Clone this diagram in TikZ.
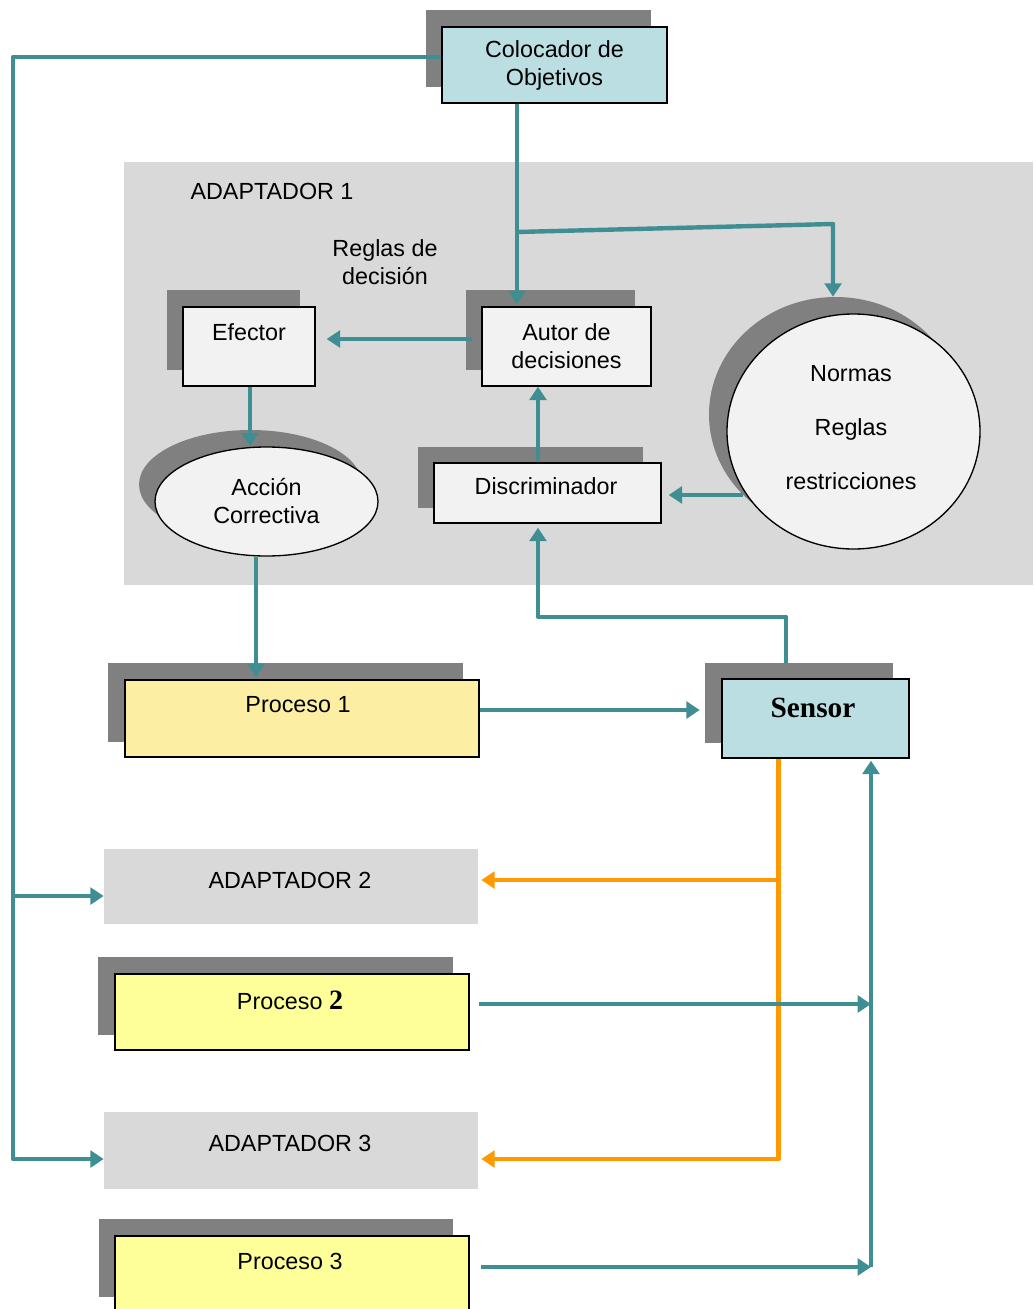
\documentclass[tikz,border=0pt]{standalone}
\usepackage{fontspec}
\setmainfont{Liberation Sans}
\newfontfamily\serifb{Liberation Serif}
\usetikzlibrary{arrows.meta,shapes.geometric}
\definecolor{tealc}{RGB}{62,142,148}
\definecolor{orangec}{RGB}{255,153,0}
\definecolor{bluec}{RGB}{187,222,227}
\definecolor{grayc}{RGB}{217,217,217}
\definecolor{shadowc}{RGB}{128,128,128}
\definecolor{boxw}{RGB}{242,242,242}
\definecolor{yel1}{RGB}{252,239,163}
\definecolor{yel2}{RGB}{255,255,153}
\begin{document}
\begin{tikzpicture}[x=0.75pt,y=-0.75pt,
  font=\fontsize{17.5}{21}\selectfont,
  box/.style={draw=black, line width=1pt, fill=boxw, inner sep=0pt, rectangle, align=center},
  shd/.style={fill=shadowc, draw=none, inner sep=0pt, rectangle},
  ell/.style={draw=black, line width=1pt, fill=boxw, inner sep=0pt, ellipse, align=center},
  shdell/.style={fill=shadowc, draw=none, inner sep=0pt, ellipse},
  gbox/.style={fill=grayc, draw=none, inner sep=0pt, rectangle},
  txt/.style={inner sep=0pt, align=center},
  tarrow/.style={draw=tealc, line width=3.3pt, line join=round, -{Triangle[length=10pt,width=12.5pt]}},
  oarrow/.style={draw=orangec, line width=3.3pt, line join=round, -{Triangle[length=10pt,width=12.5pt]}}
]
\useasboundingbox (0,0) rectangle (1033,1309);
\clip (0,0) rectangle (1033,1309);

% ADAPTADOR 1 area
\node[gbox, minimum width=681.75pt, minimum height=317.25pt] (ad1) at (578.5,373.5) {};
\node[txt] (ad1l) at (272,191) {ADAPTADOR 1};
\node[txt] (rdl) at (385,262) {Reglas de\\decisión};

% Colocador
\node[shd, minimum width=168.75pt, minimum height=57.75pt] (colsh) at (538.5,48.5) {};
\node[box, fill=bluec, minimum width=168.75pt, minimum height=57pt] (col) at (554.5,65) {Colocador de\\Objetivos};

% Efector
\node[shd, minimum width=99.75pt, minimum height=60pt] (efesh) at (233.5,330) {};
\node[box, minimum width=99pt, minimum height=59.25pt] (efe) at (249,346.5) {};
\node[txt] (efel) at (249,332) {Efector};

% Autor de decisiones
\node[shd, minimum width=126.75pt, minimum height=60pt] (autsh) at (550.5,330) {};
\node[box, minimum width=126.75pt, minimum height=59.25pt] (aut) at (566.5,346.5) {Autor de\\decisiones};

% Discriminador
\node[shd, minimum width=168.75pt, minimum height=45.75pt] (discsh) at (530.5,477.5) {};
\node[box, minimum width=170.25pt, minimum height=45pt] (disc) at (547.5,493) {};
\node[txt] (discl) at (546,486) {Discriminador};

% Accion correctiva
\node[shdell, minimum width=167.25pt, minimum height=81.75pt] (accsh) at (250.5,484.5) {};
\node[ell, minimum width=167.25pt, minimum height=81.75pt] (acc) at (266.5,501.5) {Acción\\Correctiva};

% Normas
\node[shdell, minimum width=189.75pt, minimum height=176.25pt] (nsh) at (835.5,414.5) {};
\node[ell, minimum width=189.75pt, minimum height=176.25pt] (norm) at (853.5,431.5) {};
\node[txt, font=\fontsize{17.5}{40.5}\selectfont] (normt) at (851,427.5) {Normas\\Reglas\\restricciones};

% Proceso 1
\node[shd, minimum width=266.25pt, minimum height=59.25pt] (p1sh) at (285.5,702.5) {};
\node[box, fill=yel1, minimum width=265.5pt, minimum height=57.75pt] (p1) at (302,718.5) {};
\node[txt] (p1l) at (298,705) {Proceso 1};

% Sensor
\node[shd, minimum width=141pt, minimum height=60pt] (ssh) at (799,703) {};
\node[box, fill=bluec, minimum width=140.25pt, minimum height=59.25pt] (sen) at (815.5,718.5) {};
\node[txt, font=\serifb\bfseries\fontsize{22}{26}\selectfont] (senl) at (813,708) {Sensor};

% Adaptadores 2 y 3
\node[gbox, minimum width=280.5pt, minimum height=56.25pt] (ad2) at (291,886.5) {};
\node[txt] (ad2l) at (290,880) {ADAPTADOR 2};
\node[gbox, minimum width=280.5pt, minimum height=57.75pt] (ad3) at (291,1150.5) {};
\node[txt] (ad3l) at (290,1143) {ADAPTADOR 3};

% Proceso 2
\node[shd, minimum width=266.25pt, minimum height=58.5pt] (p2sh) at (275.5,996) {};
\node[box, fill=yel2, minimum width=265.5pt, minimum height=57pt] (p2) at (292,1012) {};
\node[txt] (p2l) at (290,1000) {Proceso {\serifb\bfseries\fontsize{21}{24}\selectfont 2}};

% Proceso 3
\node[shd, minimum width=265.5pt, minimum height=58.5pt] (p3sh) at (276,1258) {};
\node[box, fill=yel2, minimum width=265.5pt, minimum height=60pt] (p3) at (292,1276) {};
\node[txt] (p3l) at (290,1261) {Proceso 3};

% Connectors
\coordinate (br) at (517,232);
\coordinate (j2) at (13,896);
\coordinate (ob) at (778.5,880);
\coordinate (vb) at (871,1267);

\draw[tarrow] ([yshift=6pt]col.west) -| (13,1159) -- ([yshift=-6.375pt]ad3.west);
\draw[tarrow] (j2) -- ([yshift=-7.125pt]ad2.west);
\draw[tarrow, shorten >=1.5pt] ([xshift=-28.125pt]col.south) -- ([xshift=-37.125pt]aut.north);
\draw[tarrow] (br) -- (833,224) -- ([xshift=-1.875pt]nsh.north);
\draw[tarrow, shorten >=8.25pt] ([xshift=-6.75pt,yshift=5.625pt]aut.west) -- ([yshift=5.625pt]efe.east);
\draw[tarrow] ([xshift=0.75pt]efe.south) -- ([xshift=-12.375pt]acc.north);
\draw[tarrow] ([xshift=-7.125pt]disc.north) -- ([xshift=-21.375pt]aut.south);
\draw[tarrow, shorten >=5.25pt] (nsh.221) -- (nsh.221 -| disc.east);
\draw[tarrow, shorten >=1.5pt] ([xshift=-7.875pt]acc.south) -- ([xshift=-34.5pt]p1.north);
\draw[tarrow, shorten >=3.75pt] ([yshift=6.375pt]p1.east) -- ([yshift=6.375pt]p1.east -| ssh.west);
\draw[tarrow, shorten >=3pt] ([xshift=-9.75pt]ssh.north) -- ++(0,-46) -| ([xshift=-7.125pt]disc.south);
\draw[oarrow, shorten >=2.25pt] ([xshift=-27.75pt]sen.south) |- ([yshift=-6.375pt]ad3.east);
\draw[oarrow, shorten >=2.25pt] (ob) -- (ob -| ad2.east);
\draw[tarrow, shorten >=1.5pt] (vb) -- ([xshift=41.625pt]sen.south);
\draw[tarrow, shorten <=6.75pt] ([yshift=6pt]p2.east) -- ([yshift=6pt]p2.east -| vb);
\draw[tarrow, shorten <=8.25pt] ([yshift=6.75pt]p3.east) -- ([yshift=6.75pt]p3.east -| vb);
\end{tikzpicture}
\end{document}
